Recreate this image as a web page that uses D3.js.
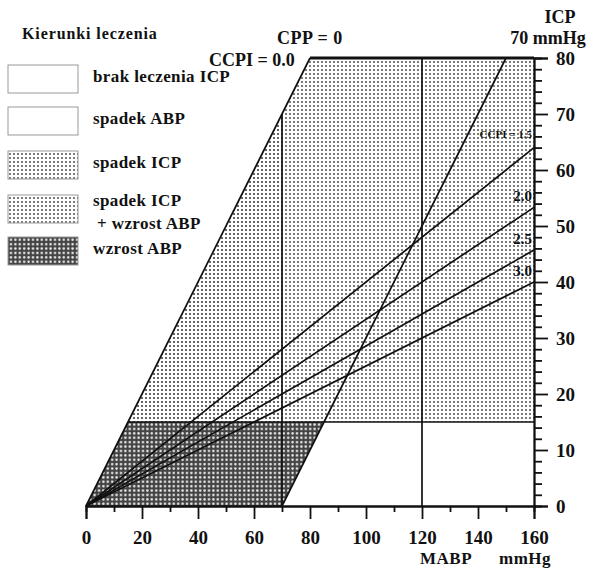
<!DOCTYPE html>
<html>
<head>
<meta charset="utf-8">
<script src="https://cdn.jsdelivr.net/npm/d3@7"></script>
<style>
  body { margin: 0; background: #fff; }
  text { font-family: "Liberation Serif", "Times New Roman", serif; font-weight: bold; fill: #111; }
</style>
</head>
<body>
<svg id="chart" width="590" height="568"></svg>
<script>
const width = 590;
const height = 568;

// axes
const xTicks = [0, 20, 40, 60, 80, 100, 120, 140, 160];
const xMinorTicks = [10, 30, 50, 70, 90, 110, 130, 150];
const yTicks = [0, 10, 20, 30, 40, 50, 60, 70, 80];
const yMinorTicks = d3.range(0, 81, 2).filter(v => v % 10 !== 0);

// thresholds (mmHg)
const icpLimit = 15;          // horizontal ICP line
const mabpLines = [70, 120];  // vertical MABP lines
const cppLines = [0, 70];     // ICP = MABP - CPP
const ccpiValues = [1.5, 2.0, 2.5, 3.0]; // ICP = MABP / (1 + CCPI)
const ccpiLabels = ["CCPI = 1.5", "2.0", "2.5", "3.0"];

const legendLabels = [
    ["brak leczenia ICP"],
    ["spadek ABP"],
    ["spadek ICP"],
    ["spadek ICP", "+ wzrost ABP"],
    ["wzrost ABP"]
];
const legendFills = ["#fff", "#fff", "url(#dotsLight)", "url(#dotsLight)", "url(#darkGrid)"];

const X_MAX = 160;
const Y_MAX = 80;

const xScale = d3.scaleLinear().domain([0, X_MAX]).range([86, 534]);
const yScale = d3.scaleLinear().domain([0, Y_MAX]).range([506, 58]);

const svg = d3.select("#chart");
const defs = svg.append("defs");

function dotPattern(id, size, r, color) {
    let p = defs.append("pattern")
        .attr("id", id)
        .attr("patternUnits", "userSpaceOnUse")
        .attr("width", size)
        .attr("height", size);
    p.append("rect").attr("width", size).attr("height", size).attr("fill", "#fff");
    p.append("circle").attr("cx", size / 2).attr("cy", size / 2).attr("r", r).attr("fill", color);
}
dotPattern("dotsDense", 4, 1.0, "#333");
dotPattern("dotsLight", 4, 0.95, "#444");

let dark = defs.append("pattern")
    .attr("id", "darkGrid")
    .attr("patternUnits", "userSpaceOnUse")
    .attr("width", 4.4)
    .attr("height", 4.4);
dark.append("rect").attr("width", 4.4).attr("height", 4.4).attr("fill", "#444");
dark.append("circle").attr("cx", 2.2).attr("cy", 2.2).attr("r", 1.25).attr("fill", "#e8e8e8");

const line = d3.line().x(d => xScale(d[0])).y(d => yScale(d[1]));
const area = pts => line(pts) + "Z";

// regions
const cppHi = cppLines[1];
const mabpLo = mabpLines[0];
const regions = [
    { fill: "url(#darkGrid)", pts: [[0, 0], [icpLimit, icpLimit], [icpLimit + cppHi, icpLimit], [cppHi, 0]] },
    { fill: "url(#dotsDense)", pts: [[icpLimit, icpLimit], [mabpLo, mabpLo], [mabpLo, icpLimit]] },
    { fill: "url(#dotsLight)", pts: [[mabpLo, icpLimit], [mabpLo, mabpLo], [Y_MAX, Y_MAX], [X_MAX, Y_MAX], [X_MAX, icpLimit]] }
];
svg.append("g").selectAll("path").data(regions).join("path")
    .attr("d", d => area(d.pts))
    .attr("fill", d => d.fill)
    .attr("stroke", "none");

const lines = svg.append("g").attr("fill", "none").attr("stroke", "#111").attr("stroke-width", 1.7);

// CPP lines
for (let cpp of cppLines) {
    lines.append("path").attr("d", line([[cpp, 0], [cpp + Y_MAX, Y_MAX]]));
}
// CCPI lines
for (let c of ccpiValues) {
    lines.append("path").attr("d", line([[0, 0], [X_MAX, X_MAX / (1 + c)]]));
}
// vertical MABP lines
lines.append("path").attr("d", line([[mabpLines[0], 0], [mabpLines[0], mabpLines[0]]]));
lines.append("path").attr("d", line([[mabpLines[1], 0], [mabpLines[1], Y_MAX]]));
// ICP threshold
lines.append("path").attr("d", line([[icpLimit, icpLimit], [X_MAX, icpLimit]]));
// top border
lines.append("path").attr("d", line([[Y_MAX, Y_MAX], [X_MAX, Y_MAX]])).attr("stroke-width", 3);

// axes
const axisRight = svg.append("g")
    .attr("transform", `translate(${xScale(X_MAX)},0)`)
    .call(d3.axisRight(yScale).tickValues(yTicks).tickSize(14).tickPadding(8).tickFormat(d3.format("d")));
svg.append("g")
    .attr("transform", `translate(${xScale(X_MAX)},0)`)
    .call(d3.axisRight(yScale).tickValues(yMinorTicks).tickSize(8).tickFormat(""));
const axisBottom = svg.append("g")
    .attr("transform", `translate(0,${yScale(0)})`)
    .call(d3.axisBottom(xScale).tickValues(xTicks).tickSize(13).tickPadding(12).tickFormat(d3.format("d")));
svg.append("g")
    .attr("transform", `translate(0,${yScale(0)})`)
    .call(d3.axisBottom(xScale).tickValues(xMinorTicks).tickSize(6).tickFormat(""));

svg.selectAll(".domain").attr("stroke", "#111").attr("stroke-width", 1.8);
svg.selectAll(".tick line").attr("stroke", "#111").attr("stroke-width", 1.8);
svg.selectAll(".tick text").attr("font-size", 19).attr("font-family", "Liberation Serif").attr("font-weight", "bold").attr("fill", "#111");
axisRight.selectAll(".tick text").attr("text-anchor", "start");

// CCPI labels
ccpiLabels.forEach((lab, i) => {
    svg.append("text")
        .attr("x", xScale(X_MAX) - 2)
        .attr("y", yScale(X_MAX / (1 + ccpiValues[i])) - (i === 0 ? 10 : 6))
        .attr("text-anchor", "end")
        .attr("font-size", i === 0 ? 11 : 15)
        .text(lab);
});

// top labels
svg.append("text").attr("x", 277).attr("y", 44).attr("font-size", 18).attr("letter-spacing", 0.5).text("CPP =  0");
svg.append("text").attr("x", 209).attr("y", 66).attr("font-size", 18).text("CCPI = 0.0");
svg.append("text").attr("x", 560).attr("y", 23).attr("text-anchor", "middle").attr("font-size", 18).text("ICP");
svg.append("text").attr("x", 548).attr("y", 44).attr("text-anchor", "middle").attr("font-size", 18).text("70 mmHg");
svg.append("text").attr("x", 420).attr("y", 564).attr("font-size", 17).attr("letter-spacing", 0.5).text("MABP");
svg.append("text").attr("x", 499).attr("y", 564).attr("font-size", 17).attr("letter-spacing", 0.5).text("mmHg");

// legend
svg.append("text").attr("x", 22).attr("y", 39).attr("font-size", 16).attr("letter-spacing", 0.9).text("Kierunki leczenia");
const legendTop = [65, 107, 151, 195, 237];
const legend = svg.append("g");
legendLabels.forEach((labs, i) => {
    legend.append("rect")
        .attr("x", 8).attr("y", legendTop[i])
        .attr("width", 70).attr("height", 28)
        .attr("fill", legendFills[i])
        .attr("stroke", "#999").attr("stroke-width", 1);
    labs.forEach((t, j) => {
        legend.append("text")
            .attr("x", j === 0 ? 93 : 97)
            .attr("y", legendTop[i] + (labs.length > 1 ? 11 : 17) + j * 23)
            .attr("font-size", 17)
            .attr("letter-spacing", 0.4)
            .text(t);
    });
});
</script>
</body>
</html>
